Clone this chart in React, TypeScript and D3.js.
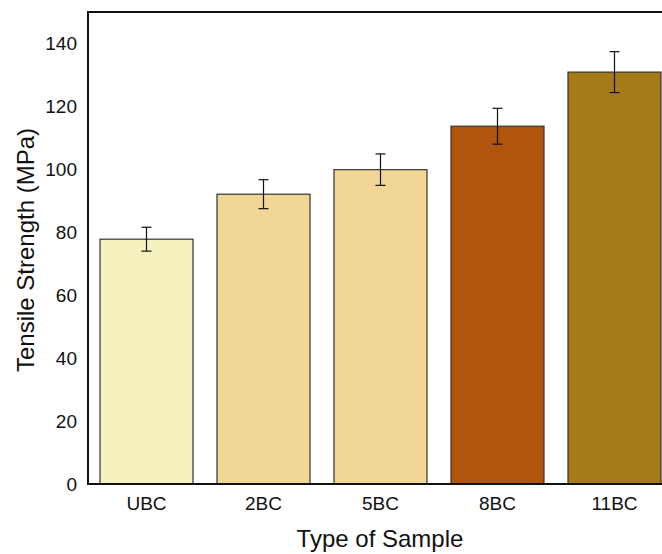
import React from "react";
import * as d3 from "d3";

const categories = ["UBC", "2BC", "5BC", "8BC", "11BC"];
const values = [77.8, 92.1, 99.9, 113.7, 130.9];
const errors = [3.8, 4.6, 5.0, 5.7, 6.5];
const colors = ["#f5f2c0", "#f2d696", "#f2d696", "#b0540e", "#a57a17"];
const yTicks = [0, 20, 40, 60, 80, 100, 120, 140];

const W = 662;
const H = 554;
const left = 88;
const top = 12;
const bottom = 484;
const right = 673;

export default function App() {
  const x = d3.scaleBand<string>().domain(categories).range([left, right]).paddingInner(24 / 117).paddingOuter(12 / 117);
  const y = d3.scaleLinear().domain([0, 150]).range([bottom, top]);
  const font = "'Liberation Sans', Arial, sans-serif";
  return (
    <svg width={W} height={H} style={{ position: "absolute", left: 0, top: 0, background: "#fff" }} fontFamily={font}>
      {categories.map((c, i) => {
        const bx = x(c)!;
        const cx = bx + x.bandwidth() / 2;
        return (
          <g key={c}>
            <rect x={bx} y={y(values[i])} width={x.bandwidth()} height={y(0) - y(values[i])} fill={colors[i]} stroke="#333" strokeWidth={1.2} />
            <line x1={cx} x2={cx} y1={y(values[i] + errors[i])} y2={y(values[i] - errors[i])} stroke="#111" strokeWidth={1.2} />
            <line x1={cx - 5} x2={cx + 5} y1={y(values[i] + errors[i])} y2={y(values[i] + errors[i])} stroke="#111" strokeWidth={1.2} />
            <line x1={cx - 5} x2={cx + 5} y1={y(values[i] - errors[i])} y2={y(values[i] - errors[i])} stroke="#111" strokeWidth={1.2} />
            <text x={cx} y={510} textAnchor="middle" fontSize={19} fill="#111">{c}</text>
          </g>
        );
      })}
      <rect x={left} y={top} width={right - left} height={bottom - top} fill="none" stroke="#111" strokeWidth={2} />
      {yTicks.map((t) => (
        <text key={t} x={77} y={y(t)} dy="0.36em" textAnchor="end" fontSize={19} fill="#111">{t}</text>
      ))}
      <text transform={`translate(34, 250) rotate(-90)`} textAnchor="middle" fontSize={24} fill="#111">Tensile Strength (MPa)</text>
      <text x={380} y={547} textAnchor="middle" fontSize={24} fill="#111">Type of Sample</text>
    </svg>
  );
}
